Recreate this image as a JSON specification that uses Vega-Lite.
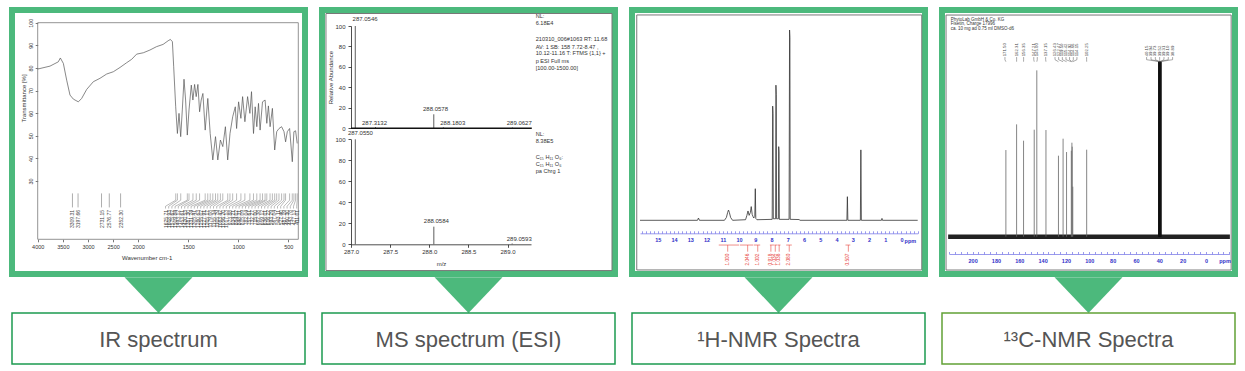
{
"$schema":"https://vega.github.io/schema/vega-lite/v6.json",
"background":"white",
"padding":{"left":9,"top":7,"right":0,"bottom":0},
"spacing":11,
"config":{
 "view":{"stroke":null},
 "axis":{"grid":false,"labelFont":"Liberation Sans","titleFont":"Liberation Sans","labelFontSize":5.5,"titleFontSize":6,"titleFontWeight":"normal","labelColor":"#333","titleColor":"#333","domainColor":"#555","tickColor":"#555","domainWidth":0.8,"tickWidth":0.8,"tickSize":2.5,"labelFlush":false,"labelOverlap":false},
 "text":{"font":"Liberation Sans"}
},
"datasets":{
 "ir":[{"wn":4000,"t":79.5},{"wn":3755,"t":80.8},{"wn":3590,"t":82.7},{"wn":3550,"t":84.4},{"wn":3490,"t":82},{"wn":3424,"t":74.6},{"wn":3358,"t":68},{"wn":3291,"t":66.2},{"wn":3192,"t":65},{"wn":3126,"t":66.5},{"wn":3026,"t":70.5},{"wn":2894,"t":73.9},{"wn":2762,"t":75.4},{"wn":2629,"t":77.3},{"wn":2497,"t":78.3},{"wn":2364,"t":80.2},{"wn":2232,"t":82.3},{"wn":2132,"t":83.8},{"wn":2033,"t":86.1},{"wn":1950,"t":86.7},{"wn":1884,"t":87.9},{"wn":1818,"t":89.4},{"wn":1752,"t":90.4},{"wn":1702,"t":92},{"wn":1679,"t":92.6},{"wn":1659,"t":91.6},{"wn":1646,"t":80.5},{"wn":1626,"t":62.8},{"wn":1609,"t":51},{"wn":1593,"t":59.9},{"wn":1576,"t":49.6},{"wn":1560,"t":61.4},{"wn":1543,"t":75},{"wn":1527,"t":65.8},{"wn":1510,"t":50.3},{"wn":1493,"t":61.4},{"wn":1470,"t":72.4},{"wn":1454,"t":65.8},{"wn":1437,"t":72.7},{"wn":1421,"t":67.3},{"wn":1404,"t":72.7},{"wn":1387,"t":60.6},{"wn":1371,"t":65.8},{"wn":1354,"t":68.7},{"wn":1331,"t":52.5},{"wn":1305,"t":66.5},{"wn":1281,"t":51},{"wn":1255,"t":39.3},{"wn":1228,"t":49.6},{"wn":1205,"t":39.3},{"wn":1179,"t":48.1},{"wn":1155,"t":45.2},{"wn":1129,"t":54},{"wn":1106,"t":39.3},{"wn":1083,"t":51},{"wn":1056,"t":58.4},{"wn":1030,"t":62.8},{"wn":1017,"t":53.2},{"wn":997,"t":65},{"wn":974,"t":57.7},{"wn":957,"t":67.3},{"wn":934,"t":56.2},{"wn":907,"t":67.3},{"wn":884,"t":59.9},{"wn":868,"t":69.5},{"wn":848,"t":51},{"wn":831,"t":62.8},{"wn":815,"t":54},{"wn":798,"t":64.3},{"wn":782,"t":52.5},{"wn":758,"t":65},{"wn":732,"t":65.8},{"wn":715,"t":55.5},{"wn":699,"t":63.2},{"wn":682,"t":54},{"wn":659,"t":62.1},{"wn":636,"t":43.7},{"wn":616,"t":51.8},{"wn":593,"t":53.2},{"wn":567,"t":54},{"wn":543,"t":51.8},{"wn":527,"t":47.3},{"wn":510,"t":51.8},{"wn":487,"t":53.2},{"wn":460,"t":38.5},{"wn":444,"t":51.8},{"wn":427,"t":52.2},{"wn":411,"t":46.6}],
 "irl":[{"p":3309.31,"lab":"3309.31"},{"p":3197.66,"lab":"3197.66"},{"p":2731.15,"lab":"2731.15"},{"p":2576.77,"lab":"2576.77"},{"p":2352.30,"lab":"2352.30"}],
 "irf":[{"p":1625.7,"s":1728,"lab":"1625.71"},{"p":1608.9,"s":1696,"lab":"1608.93"},{"p":1575.6,"s":1664,"lab":"1575.62"},{"p":1509.8,"s":1632,"lab":"1509.84"},{"p":1493.1,"s":1600,"lab":"1493.12"},{"p":1453.6,"s":1568,"lab":"1453.61"},{"p":1420.5,"s":1536,"lab":"1420.53"},{"p":1387.3,"s":1504,"lab":"1387.30"},{"p":1331.2,"s":1472,"lab":"1331.24"},{"p":1305.4,"s":1440,"lab":"1305.41"},{"p":1280.6,"s":1408,"lab":"1280.63"},{"p":1255.0,"s":1376,"lab":"1255.02"},{"p":1227.9,"s":1344,"lab":"1227.91"},{"p":1205.2,"s":1312,"lab":"1205.17"},{"p":1179.1,"s":1280,"lab":"1179.08"},{"p":1155.3,"s":1248,"lab":"1155.34"},{"p":1105.8,"s":1216,"lab":"1105.79"},{"p":1083.4,"s":1184,"lab":"1083.42"},{"p":1056.2,"s":1152,"lab":"1056.20"},{"p":1017.1,"s":1120,"lab":"1017.13"},{"p":973.9,"s":1088,"lab":"973.88"},{"p":934.2,"s":1056,"lab":"934.21"},{"p":884.0,"s":1024,"lab":"884.02"},{"p":848.3,"s":992,"lab":"848.31"},{"p":815.1,"s":960,"lab":"815.09"},{"p":782.0,"s":928,"lab":"782.04"},{"p":757.6,"s":896,"lab":"757.61"},{"p":732.3,"s":864,"lab":"732.27"},{"p":715.0,"s":832,"lab":"715.00"},{"p":682.4,"s":800,"lab":"682.38"},{"p":659.1,"s":768,"lab":"659.12"},{"p":636.0,"s":736,"lab":"636.01"},{"p":616.2,"s":704,"lab":"616.22"},{"p":593.3,"s":672,"lab":"593.29"},{"p":567.0,"s":640,"lab":"567.04"},{"p":543.1,"s":608,"lab":"543.11"},{"p":527.4,"s":576,"lab":"527.40"},{"p":487.2,"s":544,"lab":"487.19"},{"p":460.3,"s":512,"lab":"460.30"},{"p":443.8,"s":480,"lab":"443.78"},{"p":427.1,"s":448,"lab":"427.13"},{"p":411.0,"s":416,"lab":"411.01"}],
 "msu":[{"mz":287.0546,"i":100},{"mz":287.3132,"i":1.2},{"mz":288.0578,"i":13.7},{"mz":288.1803,"i":1.0},{"mz":289.0627,"i":0.8}],
 "msl":[{"mz":287.0550,"i":100},{"mz":288.0584,"i":16.8},{"mz":289.0593,"i":0.8}],
 "msul":[{"lx":287.18,"ly":106.8,"lab":"287.0546"},{"lx":287.30,"ly":4.9,"lab":"287.3132"},{"lx":288.08,"ly":18.6,"lab":"288.0578"},{"lx":288.30,"ly":4.9,"lab":"288.1803"},{"lx":289.15,"ly":4.9,"lab":"289.0627"}],
 "msll":[{"lx":287.12,"ly":105.7,"lab":"287.0550"},{"lx":288.09,"ly":22.5,"lab":"288.0584"},{"lx":289.15,"ly":4.8,"lab":"289.0593"}],
 "msiu":[{"tx":289.36,"ty":109.8,"s":"NL:"},{"tx":289.36,"ty":103.2,"s":"6.18E4"},{"tx":289.36,"ty":87,"s":"210310_006#1063  RT: 11.68"},{"tx":289.36,"ty":79.8,"s":"AV: 1 SB: 158  7.72-8.47 ,"},{"tx":289.36,"ty":73.3,"s":"10.12-11.16 T: FTMS {1,1} +"},{"tx":289.36,"ty":65.8,"s":"p ESI Full ms"},{"tx":289.36,"ty":58.6,"s":"[100.00-1500.00]"}],
 "msil":[{"tx":289.36,"ty":105,"s":"NL:"},{"tx":289.36,"ty":98.7,"s":"8.38E5"},{"tx":289.36,"ty":83.5,"s":"C₁₅ H₁₁ O₆:"},{"tx":289.36,"ty":76.5,"s":"C₁₅ H₁₁ O₆"},{"tx":289.36,"ty":70.1,"s":"pa Chrg 1"}],
 "hn":[{"ppm":16.1,"i":0},{"ppm":12.56,"i":0},{"ppm":12.5,"i":1.2},{"ppm":12.44,"i":0},{"ppm":10.9,"i":0},{"ppm":10.78,"i":1.5},{"ppm":10.7,"i":4.2},{"ppm":10.65,"i":5.4},{"ppm":10.6,"i":4.2},{"ppm":10.52,"i":1.5},{"ppm":10.4,"i":0},{"ppm":9.6,"i":0.3},{"ppm":9.52,"i":2.5},{"ppm":9.45,"i":4.9},{"ppm":9.38,"i":2.6},{"ppm":9.3,"i":4.2},{"ppm":9.25,"i":7.2},{"ppm":9.19,"i":3},{"ppm":9.1,"i":1.2},{"ppm":9.03,"i":2},{"ppm":9.0,"i":16.6},{"ppm":8.97,"i":1},{"ppm":8.9,"i":0.3},{"ppm":7.96,"i":0.5},{"ppm":7.93,"i":60},{"ppm":7.91,"i":56},{"ppm":7.89,"i":0.8},{"ppm":7.75,"i":0.8},{"ppm":7.73,"i":71},{"ppm":7.71,"i":66},{"ppm":7.69,"i":0.8},{"ppm":7.58,"i":0.8},{"ppm":7.56,"i":38.7},{"ppm":7.54,"i":36},{"ppm":7.52,"i":0.5},{"ppm":6.92,"i":0.5},{"ppm":6.89,"i":100},{"ppm":6.87,"i":96},{"ppm":6.85,"i":0.5},{"ppm":6.3,"i":0.4},{"ppm":6.25,"i":0},{"ppm":3.36,"i":0},{"ppm":3.33,"i":12.4},{"ppm":3.3,"i":0},{"ppm":2.53,"i":0},{"ppm":2.5,"i":37},{"ppm":2.47,"i":0},{"ppm":1.23,"i":0},{"ppm":1.2,"i":1},{"ppm":1.17,"i":0},{"ppm":-1.0,"i":0}],
 "hint":[{"c":10.7,"a":11.25,"b":10.0,"lab":"1.000"},{"c":9.47,"a":9.95,"b":9.12,"lab":"2.046"},{"c":8.85,"a":9.08,"b":8.7,"lab":"1.002"},{"c":8.04,"a":8.1,"b":7.85,"lab":"0.918"},{"c":7.77,"a":7.83,"b":7.63,"lab":"1.034"},{"c":7.53,"a":7.61,"b":7.45,"lab":"1.038"},{"c":6.91,"a":7.1,"b":6.75,"lab":"2.080"},{"c":3.27,"a":3.45,"b":3.15,"lab":"0.507"}],
 "c13p":[{"ppm":171.5,"i":260},{"ppm":162.31,"i":337},{"ppm":156.35,"i":288},{"ppm":147.21,"i":321},{"ppm":145.0,"i":499},{"ppm":137.15,"i":320},{"ppm":126.43,"i":243},{"ppm":122.47,"i":294},{"ppm":119.5,"i":254},{"ppm":115.42,"i":258},{"ppm":114.92,"i":282},{"ppm":114.66,"i":270},{"ppm":114.15,"i":150},{"ppm":102.25,"i":261}],
 "dmso":[{"ppm":40.15,"i":525},{"ppm":39.94,"i":525},{"ppm":39.73,"i":525},{"ppm":39.52,"i":525},{"ppm":39.31,"i":525},{"ppm":39.10,"i":525},{"ppm":38.89,"i":525}],
 "c13l":[{"p":171.5,"s":172.3,"lab":"171.50"},{"p":162.31,"s":162.3,"lab":"162.31"},{"p":156.35,"s":156.3,"lab":"156.35"},{"p":147.21,"s":147.6,"lab":"147.21"},{"p":145.0,"s":144.6,"lab":"145.00"},{"p":137.15,"s":137.4,"lab":"137.15"},{"p":126.43,"s":129.4,"lab":"126.43"},{"p":122.47,"s":126.3,"lab":"122.47"},{"p":119.5,"s":123.1,"lab":"119.50"},{"p":115.42,"s":120.0,"lab":"115.42"},{"p":114.92,"s":116.9,"lab":"114.92"},{"p":114.66,"s":113.7,"lab":"114.66"},{"p":114.15,"s":110.6,"lab":"114.15"},{"p":102.25,"s":102.3,"lab":"102.25"},{"p":39.52,"s":50.9,"lab":"40.15"},{"p":39.52,"s":47.1,"lab":"39.94"},{"p":39.52,"s":43.4,"lab":"39.73"},{"p":39.52,"s":39.7,"lab":"39.52"},{"p":39.52,"s":36.0,"lab":"39.31"},{"p":39.52,"s":32.3,"lab":"39.10"},{"p":39.52,"s":28.6,"lab":"38.89"}],
 "c13h":[{"hx":218.8,"hy":650,"s":"PhytoLab GmbH & Co. KG"},{"hx":218.8,"hy":638,"s":"Fisetin, Charge 17996"},{"hx":218.8,"hy":624,"s":"ca. 10 mg ad 0.75 ml DMSO-d6"}]
},
"hconcat":[
 {"bounds":"flush","spacing":0,"vconcat":[
  {"width":293,"height":264,"view":{"stroke":"#4cb97c","strokeWidth":6,"fill":"white"},
   "layer":[
    {"data":{"values":[{"a":4000,"b":400,"c":4.2,"d":100}]},"mark":{"type":"rect","fillOpacity":0,"stroke":"#777","strokeWidth":0.8},
     "encoding":{"x":{"field":"a","type":"quantitative","scale":{"domain":[4000,2000,400],"range":[25.7,126.3,286.3],"zero":false,"nice":false}},"x2":{"field":"b"},
      "y":{"field":"c","type":"quantitative","scale":{"domain":[4.2,100],"range":[229.3,12.7],"zero":false,"nice":false}},"y2":{"field":"d"}}},
    {"data":{"name":"ir"},"mark":{"type":"line","color":"#555","strokeWidth":0.7},
     "encoding":{"x":{"field":"wn","type":"quantitative","scale":{"domain":[4000,2000,400],"range":[25.7,126.3,286.3],"zero":false,"nice":false},
       "axis":{"orient":"bottom","offset":-34.7,"values":[4000,3500,3000,2500,2000,1500,1000,500],"tickCount":500,"format":"d","title":"Wavenumber cm-1","titleX":134.7,"titlePadding":4,"labelPadding":3,"domain":false,"labelOverlap":false}},
      "y":{"field":"t","type":"quantitative","scale":{"domain":[4.2,100],"range":[229.3,12.7],"zero":false,"nice":false},
       "axis":{"orient":"left","offset":-25.7,"values":[30,40,50,60,70,80,90,100],"tickCount":500,"format":"d","title":"Transmittance [%]","titleY":88,"labelAngle":270,"labelAlign":"center","labelBaseline":"bottom","labelPadding":2,"titlePadding":2,"domain":false,"labelOverlap":false}}}},
    {"data":{"name":"irl"},"mark":{"type":"rule","color":"#777","strokeWidth":0.6},
     "encoding":{"x":{"field":"p","type":"quantitative","scale":{"domain":[4000,2000,400],"range":[25.7,126.3,286.3],"zero":false,"nice":false}},
      "y":{"datum":24.5,"type":"quantitative","scale":{"domain":[4.2,100],"range":[229.3,12.7],"zero":false,"nice":false}},"y2":{"datum":18.3}}},
    {"data":{"name":"irl"},"mark":{"type":"text","angle":270,"align":"right","baseline":"middle","fontSize":5,"color":"#444"},
     "encoding":{"x":{"field":"p","type":"quantitative","scale":{"domain":[4000,2000,400],"range":[25.7,126.3,286.3],"zero":false,"nice":false}},
      "y":{"datum":17.2,"type":"quantitative","scale":{"domain":[4.2,100],"range":[229.3,12.7],"zero":false,"nice":false}},"text":{"field":"lab"}}},
    {"data":{"name":"irf"},"mark":{"type":"rule","color":"#777","strokeWidth":0.5},
     "encoding":{"x":{"field":"p","type":"quantitative","scale":{"domain":[4000,2000,400],"range":[25.7,126.3,286.3],"zero":false,"nice":false}},
      "y":{"datum":24.5,"type":"quantitative","scale":{"domain":[4.2,100],"range":[229.3,12.7],"zero":false,"nice":false}},"y2":{"datum":21.5}}},
    {"data":{"name":"irf"},"mark":{"type":"rule","color":"#777","strokeWidth":0.5},
     "encoding":{"x":{"field":"p","type":"quantitative","scale":{"domain":[4000,2000,400],"range":[25.7,126.3,286.3],"zero":false,"nice":false}},"x2":{"field":"s"},
      "y":{"datum":21.5,"type":"quantitative","scale":{"domain":[4.2,100],"range":[229.3,12.7],"zero":false,"nice":false}},"y2":{"datum":18.8}}},
    {"data":{"name":"irf"},"mark":{"type":"rule","color":"#777","strokeWidth":0.5},
     "encoding":{"x":{"field":"s","type":"quantitative","scale":{"domain":[4000,2000,400],"range":[25.7,126.3,286.3],"zero":false,"nice":false}},
      "y":{"datum":18.8,"type":"quantitative","scale":{"domain":[4.2,100],"range":[229.3,12.7],"zero":false,"nice":false}},"y2":{"datum":17.8}}},
    {"data":{"name":"irf"},"mark":{"type":"text","angle":270,"align":"right","baseline":"middle","fontSize":5,"color":"#444"},
     "encoding":{"x":{"field":"s","type":"quantitative","scale":{"domain":[4000,2000,400],"range":[25.7,126.3,286.3],"zero":false,"nice":false}},
      "y":{"datum":17.2,"type":"quantitative","scale":{"domain":[4.2,100],"range":[229.3,12.7],"zero":false,"nice":false}},"text":{"field":"lab"}}}
   ]},
  {"width":293,"height":39,"view":{"stroke":null},"data":{"values":[{"k":0}]},
   "mark":{"type":"point","shape":"M-1,-0.48L1,-0.48L0,0.57Z","size":4624,"filled":true,"color":"#4cb97c","opacity":1,"strokeWidth":0},
   "encoding":{"x":{"field":"k","type":"quantitative","scale":{"domain":[-1,1]},"axis":null},"y":{"field":"k","type":"quantitative","scale":{"domain":[-1,1]},"axis":null}}},
  {"width":293,"height":51,"view":{"stroke":"#1d9a50","strokeWidth":1.5,"fill":"white"},"data":{"values":[{"k":0,"t":"IR spectrum"}]},
   "mark":{"type":"text","fontSize":22,"color":"#555","font":"Liberation Sans","baseline":"middle","dy":1},
   "encoding":{"x":{"field":"k","type":"quantitative","scale":{"domain":[-1,1]},"axis":null},"y":{"field":"k","type":"quantitative","scale":{"domain":[-1,1]},"axis":null},"text":{"field":"t"}}}
 ]},
 {"bounds":"flush","spacing":0,"vconcat":[
  {"width":293,"height":264,"view":{"stroke":"#4cb97c","strokeWidth":6,"fill":"white"},
   "layer":[
    {"layer":[
     {"data":{"name":"msu"},"mark":{"type":"rule","color":"#333","strokeWidth":0.8},
      "encoding":{"x":{"field":"mz","type":"quantitative","scale":{"domain":[287,289.3],"range":[29,209],"zero":false,"nice":false}},
       "y":{"field":"i","type":"quantitative","scale":{"domain":[0,100],"range":[118.3,16],"zero":false,"nice":false},
        "axis":{"orient":"left","offset":-29,"values":[0,20,40,60,80,100],"tickCount":500,"format":"d","title":"Relative Abundance","tickSize":3,"labelPadding":3,"titlePadding":1,"labelFontSize":6,"domainColor":"#222","tickColor":"#222","labelOverlap":false}},"y2":{"datum":0}}},
     {"data":{"values":[{"a":287,"b":289.31}]},"mark":{"type":"rule","color":"#111","strokeWidth":1.6},
      "encoding":{"x":{"field":"a","type":"quantitative","scale":{"domain":[287,289.3],"range":[29,209],"zero":false,"nice":false}},"x2":{"field":"b"},
       "y":{"datum":0,"type":"quantitative","scale":{"domain":[0,100],"range":[118.3,16],"zero":false,"nice":false}}}},
     {"data":{"name":"msul"},"mark":{"type":"text","fontSize":6,"color":"#333","baseline":"middle"},
      "encoding":{"x":{"field":"lx","type":"quantitative","scale":{"domain":[287,289.3],"range":[29,209],"zero":false,"nice":false}},
       "y":{"field":"ly","type":"quantitative","scale":{"domain":[0,100],"range":[118.3,16],"zero":false,"nice":false}},"text":{"field":"lab"}}},
     {"data":{"name":"msiu"},"mark":{"type":"text","fontSize":5.6,"color":"#333","align":"left","baseline":"middle"},
      "encoding":{"x":{"field":"tx","type":"quantitative","scale":{"domain":[287,289.3],"range":[29,209],"zero":false,"nice":false}},
       "y":{"field":"ty","type":"quantitative","scale":{"domain":[0,100],"range":[118.3,16],"zero":false,"nice":false}},"text":{"field":"s"}}}
    ]},
    {"layer":[
     {"data":{"values":[{"a":286.68,"b":290.335,"c":219.8,"d":-25}]},"mark":{"type":"rect","fillOpacity":0,"stroke":"#777","strokeWidth":1},
      "encoding":{"x":{"field":"a","type":"quantitative","scale":{"domain":[287,289.3],"range":[29,209],"zero":false,"nice":false}},"x2":{"field":"b"},
       "y":{"field":"c","type":"quantitative","scale":{"domain":[0,100],"range":[234.3,129.3],"zero":false,"nice":false}},"y2":{"field":"d"}}},
     {"data":{"name":"msl"},"mark":{"type":"rule","color":"#333","strokeWidth":0.8},
      "encoding":{"x":{"field":"mz","type":"quantitative","scale":{"domain":[287,289.3],"range":[29,209],"zero":false,"nice":false},
        "axis":{"orient":"bottom","offset":-29.7,"values":[287,287.5,288,288.5,289],"tickCount":500,"format":".1f","title":"m/z","tickSize":3,"labelPadding":1,"titlePadding":6,"labelFontSize":6,"domainColor":"#222","tickColor":"#222","labelOverlap":false}},
       "y":{"field":"i","type":"quantitative","scale":{"domain":[0,100],"range":[234.3,129.3],"zero":false,"nice":false},
        "axis":{"orient":"left","offset":-29,"values":[0,20,40,60,80,100],"tickCount":500,"format":"d","title":null,"tickSize":3,"labelPadding":3,"labelFontSize":6,"domainColor":"#222","tickColor":"#222","labelOverlap":false}},"y2":{"datum":0}}},
     {"data":{"name":"msll"},"mark":{"type":"text","fontSize":6,"color":"#333","baseline":"middle"},
      "encoding":{"x":{"field":"lx","type":"quantitative","scale":{"domain":[287,289.3],"range":[29,209],"zero":false,"nice":false}},
       "y":{"field":"ly","type":"quantitative","scale":{"domain":[0,100],"range":[234.3,129.3],"zero":false,"nice":false}},"text":{"field":"lab"}}},
     {"data":{"name":"msil"},"mark":{"type":"text","fontSize":5.6,"color":"#333","align":"left","baseline":"middle"},
      "encoding":{"x":{"field":"tx","type":"quantitative","scale":{"domain":[287,289.3],"range":[29,209],"zero":false,"nice":false}},
       "y":{"field":"ty","type":"quantitative","scale":{"domain":[0,100],"range":[234.3,129.3],"zero":false,"nice":false}},"text":{"field":"s"}}}
    ]}
   ],
   "resolve":{"scale":{"y":"independent"},"axis":{"y":"independent"}}},
  {"width":293,"height":39,"view":{"stroke":null},"data":{"values":[{"k":0}]},
   "mark":{"type":"point","shape":"M-1,-0.48L1,-0.48L0,0.57Z","size":4624,"filled":true,"color":"#4cb97c","opacity":1,"strokeWidth":0},
   "encoding":{"x":{"field":"k","type":"quantitative","scale":{"domain":[-1,1]},"axis":null},"y":{"field":"k","type":"quantitative","scale":{"domain":[-1,1]},"axis":null}}},
  {"width":293,"height":51,"view":{"stroke":"#1d9a50","strokeWidth":1.5,"fill":"white"},"data":{"values":[{"k":0,"t":"MS spectrum (ESI)"}]},
   "mark":{"type":"text","fontSize":22,"color":"#555","font":"Liberation Sans","baseline":"middle","dy":1},
   "encoding":{"x":{"field":"k","type":"quantitative","scale":{"domain":[-1,1]},"axis":null},"y":{"field":"k","type":"quantitative","scale":{"domain":[-1,1]},"axis":null},"text":{"field":"t"}}}
 ]},
 {"bounds":"flush","spacing":0,"vconcat":[
  {"width":293,"height":264,"view":{"stroke":"#4cb97c","strokeWidth":6,"fill":"white"},
   "layer":[
    {"data":{"values":[{"a":16.3,"b":-1.25,"c":107.9,"d":-26.1}]},"mark":{"type":"rect","fillOpacity":0,"stroke":"#777","strokeWidth":1},
     "encoding":{"x":{"field":"a","type":"quantitative","scale":{"domain":[16.1,-1.0],"range":[8,285.7],"zero":false,"nice":false}},"x2":{"field":"b"},
      "y":{"field":"c","type":"quantitative","scale":{"domain":[0,100],"range":[210.3,20],"zero":false,"nice":false},"axis":null},"y2":{"field":"d"}}},
    {"data":{"name":"hn"},"mark":{"type":"line","color":"#333","strokeWidth":0.8},
     "encoding":{"x":{"field":"ppm","type":"quantitative","scale":{"domain":[16.1,-1.0],"range":[8,285.7],"zero":false,"nice":false},
       "axis":{"orient":"bottom","offset":-40.7,"values":[-1,-0.75,-0.5,-0.25,0,0.25,0.5,0.75,1,1.25,1.5,1.75,2,2.25,2.5,2.75,3,3.25,3.5,3.75,4,4.25,4.5,4.75,5,5.25,5.5,5.75,6,6.25,6.5,6.75,7,7.25,7.5,7.75,8,8.25,8.5,8.75,9,9.25,9.5,9.75,10,10.25,10.5,10.75,11,11.25,11.5,11.75,12,12.25,12.5,12.75,13,13.25,13.5,13.75,14,14.25,14.5,14.75,15,15.25,15.5,15.75,16],"tickCount":500,
        "labelExpr":"datum.value % 1 === 0 && datum.value >= 0 && datum.value <= 15 ? format(datum.value, 'd') : ''","title":null,"tickSize":-2.5,"labelPadding":7,"labelColor":"#3030c8","labelFontWeight":"bold","labelFontSize":5.5,"domainColor":"#8080e8","tickColor":"#8080e8","labelOverlap":false}},
      "y":{"field":"i","type":"quantitative","scale":{"domain":[0,100],"range":[210.3,20],"zero":false,"nice":false},"axis":null}}},
    {"data":{"name":"hint"},"mark":{"type":"rule","color":"#e8453c","strokeWidth":0.6},
     "encoding":{"x":{"field":"a","type":"quantitative","scale":{"domain":[16.1,-1.0],"range":[8,285.7],"zero":false,"nice":false}},"x2":{"field":"b"},
      "y":{"datum":-13,"type":"quantitative","scale":{"domain":[0,100],"range":[210.3,20],"zero":false,"nice":false},"axis":null}}},
    {"data":{"name":"hint"},"mark":{"type":"rule","color":"#e8453c","strokeWidth":0.6},
     "encoding":{"x":{"field":"c","type":"quantitative","scale":{"domain":[16.1,-1.0],"range":[8,285.7],"zero":false,"nice":false}},
      "y":{"datum":-13,"type":"quantitative","scale":{"domain":[0,100],"range":[210.3,20],"zero":false,"nice":false},"axis":null},"y2":{"datum":-16.5}}},
    {"data":{"name":"hint"},"mark":{"type":"text","angle":270,"align":"right","baseline":"middle","fontSize":4.8,"color":"#e8453c"},
     "encoding":{"x":{"field":"c","type":"quantitative","scale":{"domain":[16.1,-1.0],"range":[8,285.7],"zero":false,"nice":false}},
      "y":{"datum":-17.5,"type":"quantitative","scale":{"domain":[0,100],"range":[210.3,20],"zero":false,"nice":false},"axis":null},"text":{"field":"lab"}}},
    {"data":{"values":[{"px":-0.55,"py":-10.9,"s":"ppm"}]},"mark":{"type":"text","fontSize":5.5,"fontWeight":"bold","color":"#3030c8","baseline":"middle"},
     "encoding":{"x":{"field":"px","type":"quantitative","scale":{"domain":[16.1,-1.0],"range":[8,285.7],"zero":false,"nice":false}},
      "y":{"field":"py","type":"quantitative","scale":{"domain":[0,100],"range":[210.3,20],"zero":false,"nice":false},"axis":null},"text":{"field":"s"}}}
   ]},
  {"width":293,"height":39,"view":{"stroke":null},"data":{"values":[{"k":0}]},
   "mark":{"type":"point","shape":"M-1,-0.48L1,-0.48L0,0.57Z","size":4624,"filled":true,"color":"#4cb97c","opacity":1,"strokeWidth":0},
   "encoding":{"x":{"field":"k","type":"quantitative","scale":{"domain":[-1,1]},"axis":null},"y":{"field":"k","type":"quantitative","scale":{"domain":[-1,1]},"axis":null}}},
  {"width":293,"height":51,"view":{"stroke":"#1d9a50","strokeWidth":1.5,"fill":"white"},"data":{"values":[{"k":0,"t":"¹H-NMR Spectra"}]},
   "mark":{"type":"text","fontSize":22,"color":"#555","font":"Liberation Sans","baseline":"middle","dy":1},
   "encoding":{"x":{"field":"k","type":"quantitative","scale":{"domain":[-1,1]},"axis":null},"y":{"field":"k","type":"quantitative","scale":{"domain":[-1,1]},"axis":null},"text":{"field":"t"}}}
 ]},
 {"bounds":"flush","spacing":0,"vconcat":[
  {"width":293,"height":264,"view":{"stroke":"#4cb97c","strokeWidth":6,"fill":"white"},
   "layer":[
    {"data":{"values":[{"a":222.8,"b":-21.6,"c":665,"d":-100}]},"mark":{"type":"rect","fillOpacity":0,"stroke":"#777","strokeWidth":1},
     "encoding":{"x":{"field":"a","type":"quantitative","scale":{"domain":[220,-20],"range":[7.3,287.3],"zero":false,"nice":false}},"x2":{"field":"b"},
      "y":{"field":"c","type":"quantitative","scale":{"domain":[0,525],"range":[226.7,51.7],"zero":false,"nice":false},"axis":null},"y2":{"field":"d"}}},
    {"data":{"values":[{"a":221,"b":-20.5}]},"mark":{"type":"rule","color":"#222","strokeWidth":4.5},
     "encoding":{"x":{"field":"a","type":"quantitative","scale":{"domain":[220,-20],"range":[7.3,287.3],"zero":false,"nice":false},
       "axis":{"orient":"bottom","offset":-20,"values":[-20,-15,-10,-5,0,5,10,15,20,25,30,35,40,45,50,55,60,65,70,75,80,85,90,95,100,105,110,115,120,125,130,135,140,145,150,155,160,165,170,175,180,185,190,195,200,205,210,215,220],"tickCount":500,
        "labelExpr":"datum.value % 20 === 0 && datum.value >= 0 && datum.value <= 200 ? format(datum.value, 'd') : ''","title":null,"tickSize":-2.5,"labelPadding":6.5,"labelColor":"#3030c8","labelFontWeight":"bold","labelFontSize":5.5,"domainColor":"#8080e8","tickColor":"#8080e8","labelOverlap":false}},"x2":{"field":"b"},
      "y":{"datum":0,"type":"quantitative","scale":{"domain":[0,525],"range":[226.7,51.7],"zero":false,"nice":false},"axis":null}}},
    {"data":{"name":"c13p"},"mark":{"type":"rule","color":"#666","strokeWidth":0.8},
     "encoding":{"x":{"field":"ppm","type":"quantitative","scale":{"domain":[220,-20],"range":[7.3,287.3],"zero":false,"nice":false}},
      "y":{"field":"i","type":"quantitative","scale":{"domain":[0,525],"range":[226.7,51.7],"zero":false,"nice":false},"axis":null},"y2":{"datum":0}}},
    {"data":{"name":"dmso"},"mark":{"type":"rule","color":"#111","strokeWidth":2},
     "encoding":{"x":{"field":"ppm","type":"quantitative","scale":{"domain":[220,-20],"range":[7.3,287.3],"zero":false,"nice":false}},
      "y":{"field":"i","type":"quantitative","scale":{"domain":[0,525],"range":[226.7,51.7],"zero":false,"nice":false},"axis":null},"y2":{"datum":0}}},
    {"data":{"name":"c13l"},"mark":{"type":"rule","color":"#555","strokeWidth":0.5},
     "encoding":{"x":{"field":"s","type":"quantitative","scale":{"domain":[220,-20],"range":[7.3,287.3],"zero":false,"nice":false}},
      "y":{"datum":539,"type":"quantitative","scale":{"domain":[0,525],"range":[226.7,51.7],"zero":false,"nice":false},"axis":null},"y2":{"datum":531}}},
    {"data":{"name":"c13l"},"mark":{"type":"rule","color":"#555","strokeWidth":0.5},
     "encoding":{"x":{"field":"s","type":"quantitative","scale":{"domain":[220,-20],"range":[7.3,287.3],"zero":false,"nice":false}},"x2":{"field":"p"},
      "y":{"datum":531,"type":"quantitative","scale":{"domain":[0,525],"range":[226.7,51.7],"zero":false,"nice":false},"axis":null},"y2":{"datum":525}}},
    {"data":{"name":"c13l"},"mark":{"type":"text","angle":270,"align":"left","baseline":"middle","fontSize":4.3,"color":"#444"},
     "encoding":{"x":{"field":"s","type":"quantitative","scale":{"domain":[220,-20],"range":[7.3,287.3],"zero":false,"nice":false}},
      "y":{"datum":541,"type":"quantitative","scale":{"domain":[0,525],"range":[226.7,51.7],"zero":false,"nice":false},"axis":null},"text":{"field":"lab"}}},
    {"data":{"name":"c13h"},"mark":{"type":"text","align":"left","baseline":"middle","fontSize":4.5,"color":"#333"},
     "encoding":{"x":{"field":"hx","type":"quantitative","scale":{"domain":[220,-20],"range":[7.3,287.3],"zero":false,"nice":false}},
      "y":{"field":"hy","type":"quantitative","scale":{"domain":[0,525],"range":[226.7,51.7],"zero":false,"nice":false},"axis":null},"text":{"field":"s"}}},
    {"data":{"values":[{"px":-16.3,"py":-72.9,"s":"ppm"}]},"mark":{"type":"text","fontSize":5.5,"fontWeight":"bold","color":"#3030c8","baseline":"middle"},
     "encoding":{"x":{"field":"px","type":"quantitative","scale":{"domain":[220,-20],"range":[7.3,287.3],"zero":false,"nice":false}},
      "y":{"field":"py","type":"quantitative","scale":{"domain":[0,525],"range":[226.7,51.7],"zero":false,"nice":false},"axis":null},"text":{"field":"s"}}}
   ]},
  {"width":293,"height":39,"view":{"stroke":null},"data":{"values":[{"k":0}]},
   "mark":{"type":"point","shape":"M-1,-0.48L1,-0.48L0,0.57Z","size":4624,"filled":true,"color":"#4cb97c","opacity":1,"strokeWidth":0},
   "encoding":{"x":{"field":"k","type":"quantitative","scale":{"domain":[-1,1]},"axis":null},"y":{"field":"k","type":"quantitative","scale":{"domain":[-1,1]},"axis":null}}},
  {"width":293,"height":51,"view":{"stroke":"#62a136","strokeWidth":1.5,"fill":"white"},"data":{"values":[{"k":0,"t":"¹³C-NMR Spectra"}]},
   "mark":{"type":"text","fontSize":22,"color":"#555","font":"Liberation Sans","baseline":"middle","dy":1},
   "encoding":{"x":{"field":"k","type":"quantitative","scale":{"domain":[-1,1]},"axis":null},"y":{"field":"k","type":"quantitative","scale":{"domain":[-1,1]},"axis":null},"text":{"field":"t"}}}
 ]}
]
}
